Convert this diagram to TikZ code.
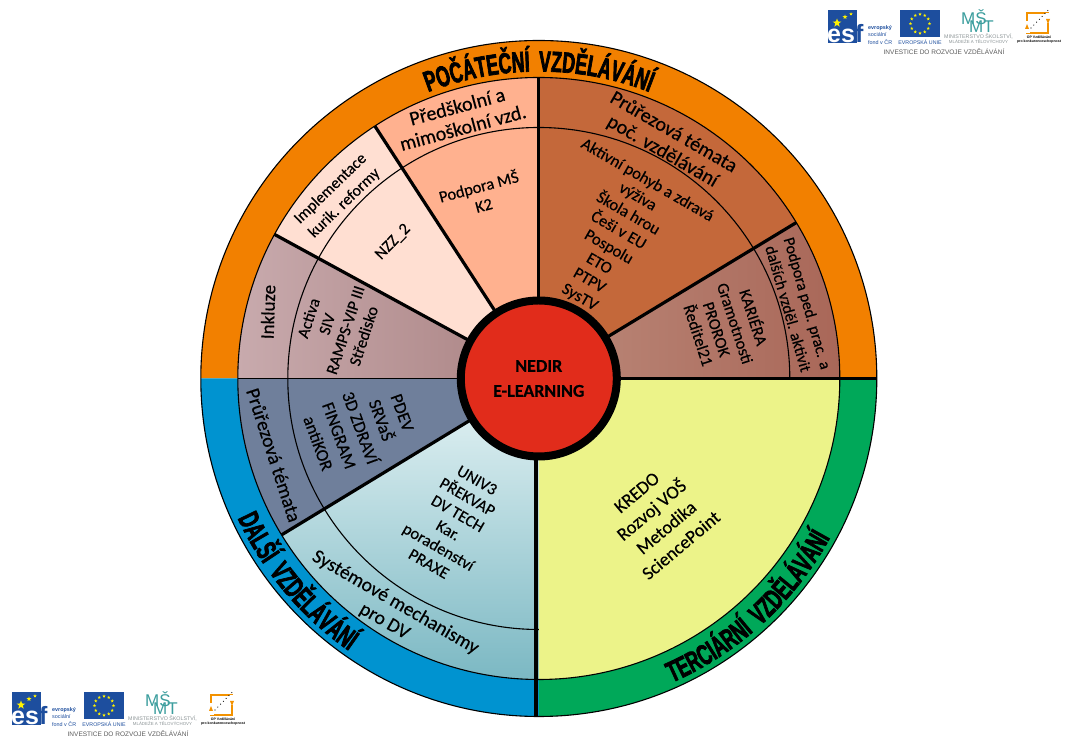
\documentclass[tikz,border=0pt]{standalone}
\usepackage{fontspec}
\usetikzlibrary{shapes.geometric,decorations.text,calc}
\setmainfont[FakeBold=0.35]{Carlito}
\newfontfamily\bandfont[FakeStretch=0.61,FakeBold=2.4]{Liberation Sans}
\newfontfamily\logofont{Liberation Sans}

\definecolor{bandorange}{HTML}{F28000}
\definecolor{bandblue}{HTML}{0093D0}
\definecolor{bandgreen}{HTML}{00A859}
\definecolor{partyellow}{HTML}{ECF389}
\definecolor{partpeach}{HTML}{FFB18F}
\definecolor{partpink}{HTML}{FFDFD2}
\definecolor{partrust}{HTML}{C4683A}
\definecolor{partslate}{HTML}{6F7F9B}
\definecolor{mauvelight}{HTML}{C8AAAD}
\definecolor{mauvedark}{HTML}{AA8282}
\definecolor{brownlight}{HTML}{BB897A}
\definecolor{browndark}{HTML}{A96758}
\definecolor{teallight}{HTML}{E8F5F6}
\definecolor{tealdark}{HTML}{7BB8C3}
\definecolor{nedirred}{HTML}{E12C1B}
\definecolor{logoblue}{HTML}{1D4E9E}
\definecolor{logoteal}{HTML}{3C9E9E}
\definecolor{logoorange}{HTML}{F39200}
\definecolor{logogrey}{HTML}{8C9496}

\newcommand{\wheelpart}[4]{\path[#4] (0,0) -- (#1:#3) arc (#1:#2:#3) -- cycle;}

\tikzset{
  thinln/.style={draw=black, line width=1.1},
  divider/.style={draw=black, line width=3.2},
  ringlab/.style={font=\fontsize{20}{22}\selectfont, align=center, inner sep=0},
  innerlab/.style={font=\fontsize{16.5}{19.3}\selectfont, align=center, inner sep=0},
  termlab/.style={font=\fontsize{18.5}{23}\selectfont, align=center, inner sep=0},
  bandtxt/.style={decorate, decoration={text along path, text align=center, text={#1}}},
  logotxt/.style={font=\logofont\fontsize{#1}{#1}\selectfont, inner sep=0},
  eustar/.style={star, star points=5, star point ratio=2.4, fill=yellow, inner sep=0, minimum size=3.4},
  logoband/.pic={
    % esf
    \fill[logoblue] (0,0) rectangle (29,-33);
    \node (-s1) [eustar, minimum size=9] at (9,-13) {};
    \node (-s2) [eustar, minimum size=5] at (17,-7) {};
    \node (-s3) [eustar, minimum size=3.5] at (23,-4) {};
    \node (-esf) [logotxt=25, anchor=base west, text=white] at (-1,-33) {\bfseries es\textcolor{logoblue}{f}};
    \node (-esfa) [logotxt=5.4, anchor=west, text=logoblue] at (40,-18) {\bfseries evropský};
    \node (-esfb) [logotxt=5.4, anchor=west, text=logoblue] at (40,-25) {sociální};
    \node (-esfc) [logotxt=5.4, anchor=west, text=logoblue] at (40,-32) {fond v ČR};
    % flag
    \fill[logoblue] (72,0) rectangle (112,-27.5);
    \foreach \a in {0,30,...,330}
      \node (-f\a) [eustar] at ($(92,-13.7)+(\a:9.5)$) {};
    \node (-eu) [logotxt=5.3, text=logoblue] at (92,-32) {EVROPSKÁ UNIE};
    % msmt
    \node (-ms) [logotxt=17, text=logoteal, anchor=west] at (133,-7) {MŠ};
    \node (-mt) [logotxt=17, text=logoteal, anchor=west] at (141,-17) {MT};
    \node (-min) [logotxt=5.3, text=logogrey] at (150.5,-26.5) {MINISTERSTVO ŠKOLSTVÍ,};
    \node (-mla) [logotxt=4.4, text=logogrey] at (150.5,-32) {MLÁDEŽE A TĚLOVÝCHOVY};
    % op
    \draw[logoorange, line width=1.6] (199,-3) rectangle (220,-23);
    \fill[white] (196,-11) rectangle (202,-23);
    \fill[white] (217,-3) rectangle (223,-13);
    \fill[logoorange] (197,-19) -- (201,-19) -- (199,-14) -- cycle;
    \fill[logoorange] (218,-9) -- (222,-9) -- (220,-14) -- cycle;
    \foreach \k in {0,1,...,6}
      \fill[black] ({203+\k*2.8},{-18+\k*2.9}) circle (0.6);
    \node (-opa) [logotxt=3.5, anchor=center] at (211,-27) {\bfseries OP Vzdělávání};
    \node (-opb) [logotxt=3.5, anchor=center] at (211,-32) {\bfseries pro konkurenceschopnost};
    % invest
    \node (-inv) [logotxt=6.5, text=black!65] at (116,-42) {INVESTICE DO ROZVOJE VZDĚLÁVÁNÍ};
  }
}

\begin{document}
\begin{tikzpicture}[x=1pt, y=1pt]
\useasboundingbox (0,0) rectangle (1077,746);
\fill[white] (0,0) rectangle (1077,746);

\begin{scope}[shift={(538.8,367.5)}]
% bands
\wheelpart{0}{180}{338}{fill=bandorange}
\wheelpart{180}{270}{338}{fill=bandblue}
\wheelpart{270}{360}{338}{fill=bandgreen}
% parts
\wheelpart{90}{123}{301}{fill=partpeach}
\wheelpart{123}{151.4}{301}{fill=partpink}
\wheelpart{151.4}{180}{301}{left color=mauvelight, right color=mauvedark}
\wheelpart{31.2}{90}{301}{fill=partrust}
\wheelpart{0}{31.2}{301}{left color=brownlight, right color=browndark}
\wheelpart{180}{211.3}{301}{fill=partslate}
\wheelpart{211.3}{270}{301}{top color=teallight, bottom color=tealdark}
\wheelpart{270}{360}{301}{fill=partyellow}
% arcs
\draw[thinln] (0,0) circle (338);
\draw[thinln] (0,0) circle (301);
\draw[thinln] (251,0) arc (0:270:251);
% dividers
\draw[divider] (0,0) -- (90:301);
\draw[divider] (0,0) -- (123:301);
\draw[divider] (0,0) -- (151.4:301);
\draw[divider] (0,0) -- (31.2:301);
\draw[divider] (0,0) -- (211.3:301);
\draw[thinln, line width=1.6] (0,0) -- (180:301);
\draw[divider] (0,0) -- (0:338);
\draw[divider, line width=4] (-2.5,0) -- (-2.5,-337.5);
% band titles
\path[bandtxt={|\bandfont\bfseries\fontsize{29}{29}\selectfont|POČÁTEČNÍ{\kern4pt} VZDĚLÁVÁNÍ}] (150:307) arc (150:30:307);
\path[bandtxt={|\bandfont\bfseries\fontsize{29}{29}\selectfont|DALŠÍ{\kern4pt} VZDĚLÁVÁNÍ}] (180:332) arc (180:260:332);
\path[bandtxt={|\bandfont\bfseries\fontsize{29}{29}\selectfont|TERCIÁRNÍ{\kern4pt} VZDĚLÁVÁNÍ}] (272:332) arc (272:353:332);
% hub
\node (nedir) [circle, draw=black, line width=8, fill=nedirred, minimum size=156, inner sep=0, align=center,
  font=\bfseries\fontsize{18}{25}\selectfont] at (0,0) {NEDIR\\E-LEARNING};
\end{scope}

% labels
\node (predskolni) [ringlab, rotate=15] at (460,629) {Předškolní a\\mimoškolní vzd.};
\node (podpora) [innerlab, rotate=15] at (481,551) {Podpora MŠ\\K2};
\node (implementace) [innerlab, font=\fontsize{16}{20}\selectfont, rotate=44] at (337.5,550) {Implementace\\kurik. reformy};
\node (nzz) [innerlab, rotate=46] at (393,504) {NZZ\_2};
\node (inkluze) [ringlab, font=\fontsize{19}{22}\selectfont, rotate=88] at (268,434) {Inkluze};
\node (activa) [innerlab, rotate=72] at (336,419) {Activa\\SIV\\RAMPS-VIP III\\Středisko};
\node (prurezpoc) [ringlab, rotate=-30] at (668,604) {Průřezová témata\\poč. vzdělávání};
\node (aktivni) [innerlab, rotate=-30] at (613.5,507) {Aktivní pohyb a zdravá\\výživa\\Škola hrou\\Češi v EU\\Pospolu\\ETO\\PTPV\\SysTV};
\node (kariera) [innerlab, rotate=-72] at (727,420) {KARIÉRA\\Gramotnosti\\PROROK\\Ředitel21};
\node (podporaped) [innerlab, font=\fontsize{16}{20}\selectfont, rotate=-74] at (798,440) {Podpora ped. prac. a\\dalších vzděl. aktivit};
\node (prurezdv) [innerlab, font=\fontsize{19.5}{20}\selectfont, rotate=-72] at (274,291) {Průřezová témata};
\node (pdev) [innerlab, font=\fontsize{17.5}{22.4}\selectfont, rotate=-70] at (360,318) {PDEV\\SRVaŠ\\3D ZDRAVÍ\\FINGRAM\\antiKOR};
\node (univ) [innerlab, rotate=-30] at (453,224) {UNIV3\\PŘEKVAP\\DV TECH\\Kar.\\poradenství\\PRAXE};
\node (systemove) [ringlab, font=\fontsize{19.5}{22}\selectfont, rotate=-30] at (390,134) {Systémové mechanismy\\pro DV};
\node (kredo) [termlab, rotate=40] at (659,227) {KREDO\\Rozvoj VOŠ\\Metodika\\SciencePoint};

% logos
\pic (logotop) at (828,736) {logoband};
\pic (logobot) at (12,54) {logoband};
\end{tikzpicture}
\end{document}
